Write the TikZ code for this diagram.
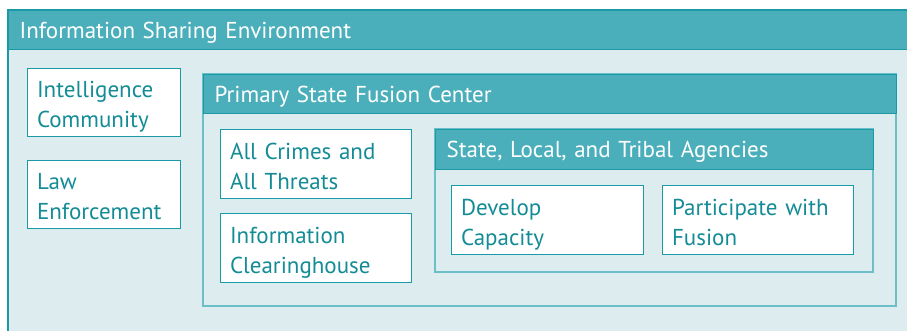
\documentclass[tikz,border=0pt]{standalone}
\usepackage{fontspec}
\setmainfont{PT Sans}
\definecolor{headbg}{HTML}{4BAFBB}
\definecolor{edge}{HTML}{1A9AA6}
\definecolor{softedge}{HTML}{6DBFC7}
\definecolor{tealtext}{HTML}{138C96}
\definecolor{lightbg}{HTML}{DDECEF}
\tikzset{
  panel/.style={draw=#1, fill=lightbg, line width=1.2pt},
  header/.style={fill=headbg, draw=edge, line width=1.2pt, anchor=north west, text=white,
    inner xsep=11pt, inner ysep=0pt, align=left, text depth=0pt, font=\fontsize{23}{30}\selectfont},
  card/.style={draw=edge, fill=white, line width=1.1pt, anchor=north west, text=tealtext,
    inner xsep=9.5pt, inner ysep=0pt, align=left, text depth=26pt, font=\fontsize{23}{30}\selectfont}
}
\begin{document}
\begin{tikzpicture}[x=1pt,y=-1pt]
\useasboundingbox (0,0) rectangle (907,330);
\clip (0,0) rectangle (907,330);
\fill[white] (0,0) rectangle (907,330);
% outer environment
\draw[panel=edge] (8,10) rectangle (930,360);
\node[header, minimum width=922pt, minimum height=39pt, text width=900pt] (ise) at (8,10) {Information Sharing Environment};
% left cards
\node[card, minimum width=153pt, minimum height=68pt, text width=134pt] (ic) at (27,68) {Intelligence\\Community};
\node[card, minimum width=153pt, minimum height=68pt, text width=134pt] (le) at (27,160) {Law\\Enforcement};
% primary state fusion center
\draw[panel=softedge] (203,74) rectangle (896,306);
\node[header, minimum width=693pt, minimum height=39pt, text width=671pt] (psfc) at (203,74) {Primary State Fusion Center};
\node[card, minimum width=191pt, minimum height=69pt, text width=172pt] (acat) at (220,129) {All Crimes and\\All Threats};
\node[card, minimum width=191pt, minimum height=69pt, text width=172pt] (info) at (220,213) {Information\\Clearinghouse};
% state, local, tribal
\draw[panel=softedge] (435,129) rectangle (873,272);
\node[header, minimum width=438pt, minimum height=40pt, text width=416pt] (slt) at (435,129) {State, Local, and Tribal Agencies};
\node[card, minimum width=192pt, minimum height=69pt, text width=173pt] (dev) at (451,185) {Develop\\Capacity};
\node[card, minimum width=191pt, minimum height=69pt, text width=172pt] (part) at (662,185) {Participate with\\Fusion};
\end{tikzpicture}
\end{document}
